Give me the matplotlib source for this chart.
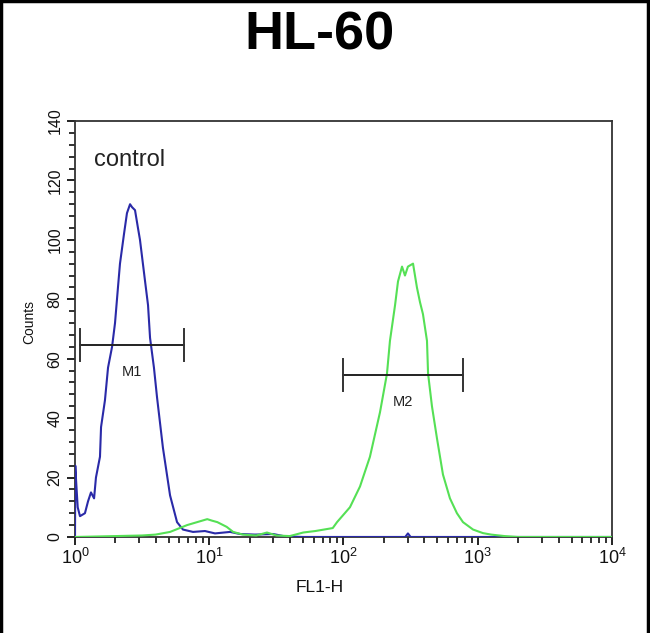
import numpy as np
import matplotlib
matplotlib.use("Agg")
import matplotlib.pyplot as plt
from matplotlib.ticker import LogLocator, MultipleLocator
from matplotlib.lines import Line2D

plt.rcParams['font.family'] = ['Liberation Sans', 'DejaVu Sans']
plt.rcParams['mathtext.default'] = 'regular'

# ---- data (x positions as log10 of FL1-H, y = counts) ----
control_log10 = [0.0, 0.002, 0.008, 0.02, 0.037, 0.074, 0.097, 0.119, 0.142, 0.156,
                 0.186, 0.194, 0.223, 0.246, 0.276, 0.298, 0.320, 0.335, 0.365, 0.387,
                 0.410, 0.425, 0.447, 0.469, 0.484, 0.522, 0.544, 0.559, 0.588, 0.611,
                 0.655, 0.708, 0.760, 0.804, 0.879, 0.968, 1.043, 1.155, 1.229, 1.341,
                 1.475, 1.564, 1.7, 2.0, 2.4, 2.46, 2.48, 2.50, 2.8, 3.2, 3.6, 4.0]
control_counts = [0, 24, 19, 10, 7, 8, 12, 15, 13, 20,
                  27, 37, 46, 57, 64, 72, 84, 92, 102, 109,
                  112, 111, 110, 104, 100, 86, 78, 67, 57, 47,
                  30, 14, 5, 2.5, 1.7, 2, 1.2, 1.7, 1, 0.8,
                  1, 0.2, 0, 0, 0, 0, 1.2, 0, 0, 0, 0, 0]

sample_log10 = [0.0, 0.3, 0.5, 0.6, 0.708, 0.78, 0.835, 0.91, 0.985, 1.02,
                1.06, 1.13, 1.178, 1.25, 1.35, 1.43, 1.5, 1.6, 1.7, 1.79,
                1.92, 1.952, 2.048, 2.123, 2.197, 2.272, 2.324, 2.346, 2.384, 2.406,
                2.436, 2.458, 2.480, 2.518, 2.547, 2.570, 2.592, 2.622, 2.630, 2.659,
                2.697, 2.741, 2.793, 2.845, 2.890, 2.965, 3.039, 3.1, 3.2, 3.3, 4.0]
sample_counts = [0, 0.3, 0.5, 0.8, 1.7, 3, 4, 5, 6, 5.5,
                 5, 3.4, 1.7, 0.8, 0.5, 1.5, 0.5, 0.3, 1.5, 2,
                 3, 5, 10, 17, 27, 42, 55, 66, 78, 86,
                 91, 88, 91, 92, 84, 79, 75, 66, 55, 44,
                 33, 21, 13, 8, 5, 2.5, 1.3, 0.8, 0.3, 0, 0]

# markers: (name, left log10, right log10, level)
marker_names = ['M1', 'M2']
marker_left = [0.037, 1.996]
marker_right = [0.812, 2.890]
marker_level = [64.6, 54.5]

title = 'HL-60'
xlabel = 'FL1-H'
ylabel = 'Counts'
annot = 'control'

fig = plt.figure(figsize=(6.5, 6.33), dpi=100)
ax = fig.add_axes([0.1154, 0.1517, 0.8261, 0.6571])

ax.plot(10 ** np.array(control_log10), control_counts, color='#2a2aa8', lw=1.5, zorder=3)
ax.plot(10 ** np.array(sample_log10), sample_counts, color='#55e055', lw=1.5, zorder=4)

for name, l, r, lev in zip(marker_names, marker_left, marker_right, marker_level):
    ax.plot([10 ** l, 10 ** r], [lev, lev], color='#222222', lw=1.4, zorder=5)
    for e in (l, r):
        ax.plot([10 ** e, 10 ** e], [lev - 5.5, lev + 5.5], color='#333333', lw=1.4, zorder=5)
    ax.text(10 ** ((l + r) / 2), lev - 9, name, ha='center', va='center',
            fontsize=10.5, color='#222222')

ax.text(10 ** 0.14, 127, annot, ha='left', va='center', fontsize=17, color='#222222')

ax.set_xscale('log')
ax.set_xlim(1, 1e4)
ax.set_ylim(0, 140)
ax.xaxis.set_major_locator(LogLocator(base=10, numticks=10))
ax.xaxis.set_minor_locator(LogLocator(base=10, subs=np.arange(2, 10), numticks=20))
ax.yaxis.set_major_locator(MultipleLocator(20))
ax.yaxis.set_minor_locator(MultipleLocator(4))
ax.tick_params(axis='both', which='major', direction='out', length=6, width=1.4, color='#222222')
ax.tick_params(axis='both', which='minor', direction='out', length=4, width=1.3, color='#222222')
ax.tick_params(axis='x', labelsize=13, pad=2, labelcolor='#111111')
ax.tick_params(axis='y', labelsize=11.5, pad=3, labelcolor='#111111')
for lab in ax.get_yticklabels():
    lab.set_rotation(90)
    lab.set_va('center')
for s in ax.spines.values():
    s.set_color('#333333')
    s.set_linewidth(1.3)

fig.text(29 / 650, 1 - 322 / 633, ylabel, rotation=90, ha='center', va='center', fontsize=10, color='#111111')
fig.text(320 / 650, 1 - 588 / 633, xlabel, ha='center', va='center', fontsize=12.5, color='#111111')
fig.text(319 / 650, 1 - 35 / 633, title, ha='center', va='center', fontsize=39, weight='bold')

# image border (left, top, right)
fig.add_artist(Line2D([0.002, 0.002], [0, 1], transform=fig.transFigure, color='black', lw=2.5))
fig.add_artist(Line2D([0, 1], [0.998, 0.998], transform=fig.transFigure, color='black', lw=2.5))
fig.add_artist(Line2D([0.997, 0.997], [0, 1], transform=fig.transFigure, color='black', lw=2.5))

fig.savefig('out.png', dpi=100)
